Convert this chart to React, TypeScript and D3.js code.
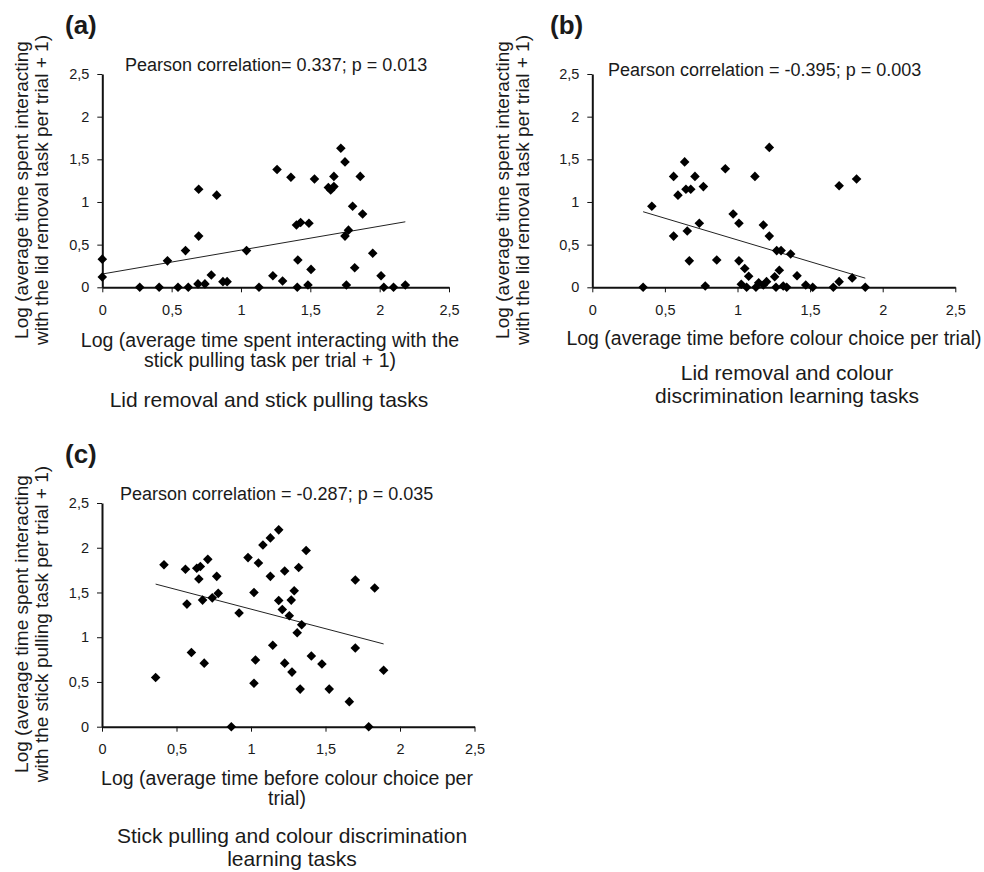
import { useEffect, useRef } from 'react';
import * as d3 from 'd3';

// (a) x: stick pulling, y: lid removal
const lidStick: [number, number][] = [
  [0, 0.33], [0, 0.12], [0.27, 0], [0.41, 0], [0.47, 0.31], [0.546, 0], [0.6, 0.43], [0.62, 0],
  [0.69, 0.04], [0.695, 1.15], [0.695, 0.6], [0.74, 0.04], [0.786, 0.145], [0.825, 1.08], [0.87, 0.066],
  [0.9, 0.066], [1.04, 0.43], [1.13, 0], [1.23, 0.136], [1.26, 1.38], [1.3, 0.074], [1.36, 1.29],
  [1.4, 0.73], [1.406, 0], [1.41, 0.32], [1.43, 0.76], [1.483, 0.027], [1.49, 0.75], [1.505, 0.21],
  [1.53, 1.27], [1.63, 1.17], [1.647, 1.14], [1.67, 1.18], [1.67, 1.3], [1.72, 1.63], [1.75, 1.47],
  [1.75, 0.6], [1.76, 0.027], [1.775, 0.67], [1.805, 0.95], [1.82, 0.23], [1.86, 1.3], [1.877, 0.86],
  [1.95, 0.4], [2.01, 0.136], [2.03, 0], [2.1, 0], [2.185, 0.027],
];

// (b) x: colour choice, y: lid removal
const lidColour: [number, number][] = [
  [0.35, 0], [0.41, 0.95], [0.56, 1.3], [0.56, 0.6], [0.59, 1.08], [0.636, 1.47], [0.645, 1.15],
  [0.654, 0.66], [0.668, 0.31], [0.678, 1.15], [0.707, 1.3], [0.737, 0.75], [0.765, 1.18], [0.778, 0.015],
  [0.857, 0.32], [0.916, 1.39], [0.97, 0.86], [1.01, 0.75], [1.01, 0.31], [1.026, 0.035], [1.05, 0.22],
  [1.063, 0], [1.077, 0.13], [1.12, 1.3], [1.127, 0], [1.146, 0.054], [1.178, 0.73], [1.178, 0.027],
  [1.2, 0.066], [1.219, 1.64], [1.219, 0.6], [1.256, 0.124], [1.265, 0], [1.27, 0.43], [1.288, 0.2],
  [1.3, 0.43], [1.315, 0.015], [1.339, 0], [1.366, 0.39], [1.41, 0.136], [1.47, 0.027], [1.518, 0],
  [1.66, 0], [1.7, 1.19], [1.7, 0.066], [1.79, 0.11], [1.82, 1.27], [1.88, 0],
];

// (c) x: colour choice, y: stick pulling
const stickColour: [number, number][] = [
  [0.36, 0.55], [0.416, 1.81], [0.56, 1.76], [0.57, 1.37], [0.6, 0.83], [0.636, 1.77], [0.66, 1.79],
  [0.65, 1.65], [0.675, 1.415], [0.686, 0.71], [0.71, 1.87], [0.74, 1.44], [0.77, 1.68], [0.78, 1.49],
  [0.868, 0], [0.92, 1.27], [0.98, 1.89], [1.02, 1.5], [1.02, 0.485], [1.03, 0.745], [1.05, 1.83],
  [1.08, 2.03], [1.13, 2.11], [1.13, 1.68], [1.146, 0.91], [1.186, 2.2], [1.186, 1.41], [1.21, 1.31],
  [1.226, 1.74], [1.226, 0.71], [1.257, 1.24], [1.27, 1.415], [1.275, 0.61], [1.29, 1.52], [1.31, 1.05],
  [1.32, 1.78], [1.33, 0.42], [1.34, 1.14], [1.37, 1.97], [1.405, 0.79], [1.476, 0.7], [1.525, 0.42],
  [1.66, 0.28], [1.7, 1.64], [1.7, 0.88], [1.79, 0], [1.83, 1.55], [1.89, 0.63],
];

// linear trendlines: [intercept, slope]
const fitLidStick = [0.156, 0.28];
const fitLidColour = [1.064, -0.509];
const fitStickColour = [1.751, -0.437];

const tickValues = [0, 0.5, 1, 1.5, 2, 2.5];
const tickLabels = ['0', '0,5', '1', '1,5', '2', '2,5'];

const FONT = '"Liberation Sans", Arial, Helvetica, sans-serif';

const panels = [
  {
    tag: '(a)', tagX: 65, tagY: 34,
    data: lidStick, fit: fitLidStick,
    stat: 'Pearson correlation= 0.337; p = 0.013', statX: 125, statY: 71,
    left: 102.3, right: 449, bottom: 287.3, top: 74,
    yLabel: ['Log (average time spent interacting', 'with the lid removal task per trial + 1)'],
    yLabelX: 27.5, yLabelY: 190,
    xLabel: ['Log (average time spent interacting with the', 'stick pulling task per trial + 1)'],
    xLabelX: 270, xLabelY: 347,
    title: ['Lid removal and stick pulling tasks'], titleX: 269, titleY: 407,
  },
  {
    tag: '(b)', tagX: 550, tagY: 34,
    data: lidColour, fit: fitLidColour,
    stat: 'Pearson correlation = -0.395; p = 0.003', statX: 608, statY: 76,
    left: 592.3, right: 955.3, bottom: 287.3, top: 74,
    yLabel: ['Log (average time spent interacting', 'with the lid removal task per trial + 1)'],
    yLabelX: 509, yLabelY: 190,
    xLabel: ['Log (average time before colour choice per trial)'],
    xLabelX: 774, xLabelY: 345,
    title: ['Lid removal and colour', 'discrimination learning tasks'], titleX: 787, titleY: 380,
  },
  {
    tag: '(c)', tagX: 65, tagY: 463,
    data: stickColour, fit: fitStickColour,
    stat: 'Pearson correlation = -0.287; p = 0.035', statX: 120, statY: 500,
    left: 102, right: 474.5, bottom: 726.7, top: 503,
    yLabel: ['Log (average time spent interacting', 'with the stick pulling task per trial + 1)'],
    yLabelX: 27.5, yLabelY: 624,
    xLabel: ['Log (average time before colour choice per', 'trial)'],
    xLabelX: 287, xLabelY: 785,
    title: ['Stick pulling and colour discrimination', 'learning tasks'], titleX: 292, titleY: 843,
  },
];

const App = () => {
  const svgRef = useRef<SVGSVGElement>(null);

  useEffect(() => {
    if (!svgRef.current) return;
    const svg = d3.select(svgRef.current);
    svg.selectAll('*').remove();

    const diamond = d3.symbol().type(d3.symbolSquare).size(46);

    const multiLine = (g: any, lines: string[], x: number, y: number, size: number, gap: number) => {
      const t = g.append('text')
        .attr('x', x)
        .attr('y', y)
        .attr('text-anchor', 'middle')
        .style('font-size', `${size}px`)
        .style('fill', '#1a1a1a');
      lines.forEach((line, i) => {
        t.append('tspan').attr('x', x).attr('dy', i === 0 ? 0 : gap).text(line);
      });
    };

    panels.forEach(p => {
      const x = d3.scaleLinear().domain([0, 2.5]).range([p.left, p.right]);
      const y = d3.scaleLinear().domain([0, 2.5]).range([p.bottom, p.top]);
      const g = svg.append('g').style('font-family', FONT);

      // axes
      const gx = g.append('g')
        .attr('transform', `translate(0,${p.bottom})`)
        .call(d3.axisBottom(x).tickValues(tickValues).tickFormat((_d, i) => tickLabels[i])
          .tickSize(5).tickSizeOuter(0).tickPadding(12));
      const gy = g.append('g')
        .attr('transform', `translate(${p.left},0)`)
        .call(d3.axisLeft(y).tickValues(tickValues).tickFormat((_d, i) => tickLabels[i])
          .tickSize(5).tickSizeOuter(0).tickPadding(8));
      [gx, gy].forEach(a => {
        a.attr('font-family', FONT).attr('font-size', 14.5);
        a.select('.domain').attr('stroke', '#111').attr('stroke-width', 2);
        a.selectAll('.tick line').attr('stroke', '#111').attr('stroke-width', 1);
        a.selectAll('.tick text').attr('fill', '#1a1a1a');
      });

      // trendline over the x range of the data
      const [xmin, xmax] = d3.extent(p.data, d => d[0]) as [number, number];
      const [b0, b1] = p.fit;
      g.append('path')
        .datum([xmin, xmax])
        .attr('d', d3.line<number>().x(v => x(v)).y(v => y(b0 + b1 * v)))
        .attr('stroke', '#222')
        .attr('stroke-width', 1)
        .attr('fill', 'none');

      // points
      g.append('g')
        .selectAll('path')
        .data(p.data)
        .enter()
        .append('path')
        .attr('d', diamond)
        .attr('transform', d => `translate(${x(d[0])},${y(d[1])}) rotate(45)`)
        .attr('fill', '#000');

      // texts
      g.append('text')
        .attr('x', p.tagX)
        .attr('y', p.tagY)
        .style('font-size', '26px')
        .style('font-weight', 'bold')
        .style('fill', '#1a1a1a')
        .text(p.tag);

      g.append('text')
        .attr('x', p.statX)
        .attr('y', p.statY)
        .style('font-size', '18px')
        .style('fill', '#1a1a1a')
        .text(p.stat);

      const yl = g.append('text')
        .attr('transform', `translate(${p.yLabelX},${p.yLabelY}) rotate(-90)`)
        .attr('text-anchor', 'middle')
        .style('font-size', '19px')
        .style('fill', '#1a1a1a');
      p.yLabel.forEach((line, i) => {
        yl.append('tspan').attr('x', 0).attr('dy', i === 0 ? 0 : 20).text(line);
      });

      multiLine(g, p.xLabel, p.xLabelX, p.xLabelY, 19.5, 20);
      multiLine(g, p.title, p.titleX, p.titleY, 21, 23);
    });
  }, []);

  return (
    <svg
      ref={svgRef}
      width={984}
      height={872}
      style={{ position: 'absolute', left: 0, top: 0, background: '#fff' }}
    />
  );
};

export default App;
